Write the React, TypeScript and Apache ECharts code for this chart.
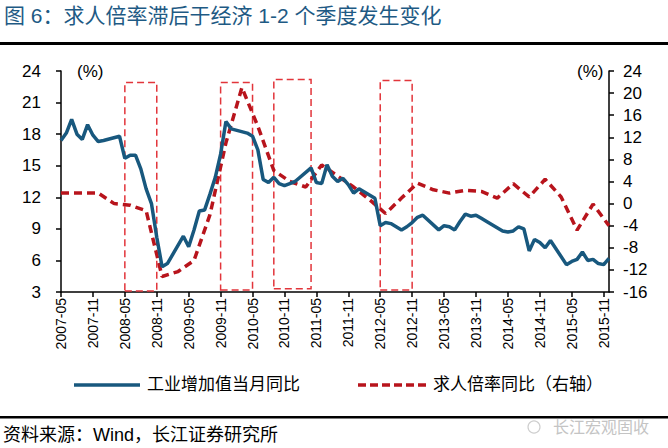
import React, { useEffect, useRef } from "react";
import * as echarts from "echarts";

// Month categories shown on the x axis (2007-05 … 2015-12)
const months: string[] = [];
for (let y = 2007; y <= 2015; y++) {
  for (let m = 1; m <= 12; m++) {
    if (y === 2007 && m < 5) continue;
    months.push(`${y}-${String(m).padStart(2, "0")}`);
  }
}

// 工业增加值当月同比 (%), left axis, one value per month category (null = no point)
const ipYoY: (number | null)[] = [
  17.4, 18.1, 19.4, 18.0, 17.5, 18.9, 17.9, 17.3, 17.4,
  null, null, 17.8, 15.7, 16.0, 16.0, 14.7, 12.8, 11.4, 8.2, 5.4, 5.7,
  null, null, 8.3, 7.3, 8.9, 10.7, 10.8, 12.3, 13.9, 16.1, 19.2, 18.5,
  null, null, 18.1, 17.8, 16.5, 13.7, 13.4, 13.9, 13.3, 13.1, 13.3, 13.5,
  null, null, 14.8, 13.4, 13.3, 15.1, 14.0, 13.5, 13.8, 13.2, 12.4, 12.8,
  null, null, 11.9, 9.3, 9.6, 9.5, 9.2, 8.9, 9.2, 9.6, 10.1, 10.3,
  null, null, 8.9, 9.3, 9.2, 8.9, 9.7, 10.4, 10.2, 10.3, 10.0, 9.7,
  null, null, 8.8, 8.7, 8.8, 9.2, 9.0, 6.9, 8.0, 7.7, 7.2, 7.9,
  null, null, 5.6, 5.9, 6.1, 6.8, 6.0, 6.1, 5.7, 5.6, 6.2,
];

// 求人倍率同比 (%), right axis, quarterly points
const jobDates: string[] = [
  "2007-05", "2007-06", "2007-09", "2007-12",
  "2008-03", "2008-06", "2008-09", "2008-12",
  "2009-03", "2009-06", "2009-09", "2009-12",
  "2010-03", "2010-06", "2010-09", "2010-12",
  "2011-03", "2011-06", "2011-09", "2011-12",
  "2012-03", "2012-06", "2012-09", "2012-12",
  "2013-03", "2013-06", "2013-09", "2013-12",
  "2014-03", "2014-06", "2014-09", "2014-12",
  "2015-03", "2015-06", "2015-09", "2015-12",
];
const jobYoY: number[] = [
  1.9, 1.9, 1.9, 1.9,
  0.0, -0.3, -1.3, -13.2,
  -12.3, -10.3, -2.0, 11.0,
  21.0, 14.0, 6.0, 4.0,
  3.0, 7.0, 5.0, 3.0,
  0.7, -1.8, 1.0, 3.7,
  2.5, 1.9, 2.4, 2.2,
  1.0, 3.6, 1.2, 4.4,
  1.2, -4.8, -0.1, -4.0,
];

// Highlight boxes (start month, end month, bottom, top on left axis)
const boxStart = ["2008-05", "2009-11", "2010-09", "2012-05"];
const boxEnd = ["2008-11", "2010-05", "2011-04", "2012-11"];
const boxBottom = [3.1, 3.2, 3.3, 3.2];
const boxTop = [22.9, 22.9, 23.2, 23.1];

const seriesNames = ["工业增加值当月同比", "求人倍率同比（右轴）"];

const FONT = '"Liberation Sans", Arial, "Noto Sans CJK SC", sans-serif';
const BLUE = "#18587E";
const RED = "#B8141C";
const BOX = "#E2353B";

export default function App() {
  const ref = useRef<HTMLDivElement>(null);
  useEffect(() => {
    if (!ref.current) return;
    const chart = echarts.init(ref.current, undefined, { renderer: "svg" });
    const boxes = boxStart.map((s, i) => [
      { xAxis: s, yAxis: boxBottom[i] },
      { xAxis: boxEnd[i], yAxis: boxTop[i] },
    ]);
    chart.setOption({
      animation: false,
      backgroundColor: "#ffffff",
      textStyle: { fontFamily: FONT },
      grid: { left: 61, right: 59, top: 71, bottom: 156, containLabel: false },
      xAxis: {
        type: "category",
        data: months,
        boundaryGap: false,
        axisLine: { onZero: false, lineStyle: { color: "#000", width: 1.5 } },
        axisTick: { interval: 5, length: 5, lineStyle: { color: "#000", width: 1.5 } },
        axisLabel: {
          interval: 5,
          rotate: 90,
          fontSize: 14,
          color: "#000",
          fontFamily: FONT,
          margin: 6,
        },
        splitLine: { show: false },
      },
      yAxis: [
        {
          type: "value",
          min: 3,
          max: 24,
          interval: 3,
          axisLine: { show: true, onZero: false, lineStyle: { color: "#000", width: 1.5 } },
          axisTick: { show: true, length: 5, lineStyle: { color: "#000", width: 1.5 } },
          axisLabel: { fontSize: 17, color: "#000", fontFamily: FONT, margin: 20 },
          splitLine: { show: false },
        },
        {
          type: "value",
          min: -16,
          max: 24,
          interval: 4,
          position: "right",
          axisLine: { show: true, onZero: false, lineStyle: { color: "#000", width: 1.5 } },
          axisTick: { show: true, length: 5, lineStyle: { color: "#000", width: 1.5 } },
          axisLabel: { fontSize: 17, color: "#000", fontFamily: FONT, margin: 14 },
          splitLine: { show: false },
        },
      ],
      series: [
        {
          name: seriesNames[0],
          type: "line",
          data: ipYoY,
          yAxisIndex: 0,
          connectNulls: true,
          symbol: "none",
          lineStyle: { color: BLUE, width: 3.5 },
          itemStyle: { color: BLUE },
          z: 3,
          markArea: {
            silent: true,
            itemStyle: {
              color: "rgba(0,0,0,0)",
              borderColor: BOX,
              borderWidth: 1.5,
              borderType: [7, 4],
            },
            data: boxes,
          },
        },
        {
          name: seriesNames[1],
          type: "line",
          data: jobDates.map((d, i) => [d, jobYoY[i]]),
          yAxisIndex: 1,
          symbol: "none",
          lineStyle: { color: RED, width: 3.5, type: [8, 5] },
          itemStyle: { color: RED },
          z: 2,
        },
      ],
      graphic: [
        {
          type: "text",
          left: 4,
          top: 5,
          style: {
            text: "图 6：求人倍率滞后于经济 1-2 个季度发生变化",
            fontSize: 21,
            fill: "#1E5A84",
            fontFamily: FONT,
          },
        },
        { type: "rect", shape: { x: 0, y: 42, width: 668, height: 3 }, style: { fill: "#000" } },
        { type: "text", left: 77, top: 63, style: { text: "(%)", fontSize: 17, fill: "#000", fontFamily: FONT } },
        { type: "text", left: 577, top: 63, style: { text: "(%)", fontSize: 17, fill: "#000", fontFamily: FONT } },
        // legend
        {
          type: "line",
          shape: { x1: 74, y1: 385, x2: 140, y2: 385 },
          style: { stroke: BLUE, lineWidth: 3.5 },
        },
        {
          type: "text",
          left: 147,
          top: 376,
          style: { text: seriesNames[0], fontSize: 17, fill: "#000", fontFamily: FONT },
        },
        {
          type: "line",
          shape: { x1: 358, y1: 385, x2: 426, y2: 385 },
          style: { stroke: RED, lineWidth: 3.5, lineDash: [8, 4] },
        },
        {
          type: "text",
          left: 433,
          top: 376,
          style: { text: seriesNames[1], fontSize: 17, fill: "#000", fontFamily: FONT },
        },
        { type: "rect", shape: { x: 0, y: 416, width: 668, height: 2.5 }, style: { fill: "#000" } },
        {
          type: "circle",
          shape: { cx: 534, cy: 427, r: 6 },
          style: { fill: "none", stroke: "#cfcfcf", lineWidth: 1.2 },
        },
        {
          type: "text",
          left: 553,
          top: 419,
          style: { text: "长江宏观固收", fontSize: 16, fill: "#c4c4c4", fontFamily: FONT },
        },
        {
          type: "text",
          left: 3,
          top: 426,
          style: { text: "资料来源：Wind，长江证券研究所", fontSize: 18, fill: "#000", fontFamily: FONT },
        },
      ],
    });
    return () => chart.dispose();
  }, []);
  return (
    <div
      ref={ref}
      style={{ position: "fixed", left: 0, top: 0, width: 668, height: 448, background: "#fff" }}
    />
  );
}
